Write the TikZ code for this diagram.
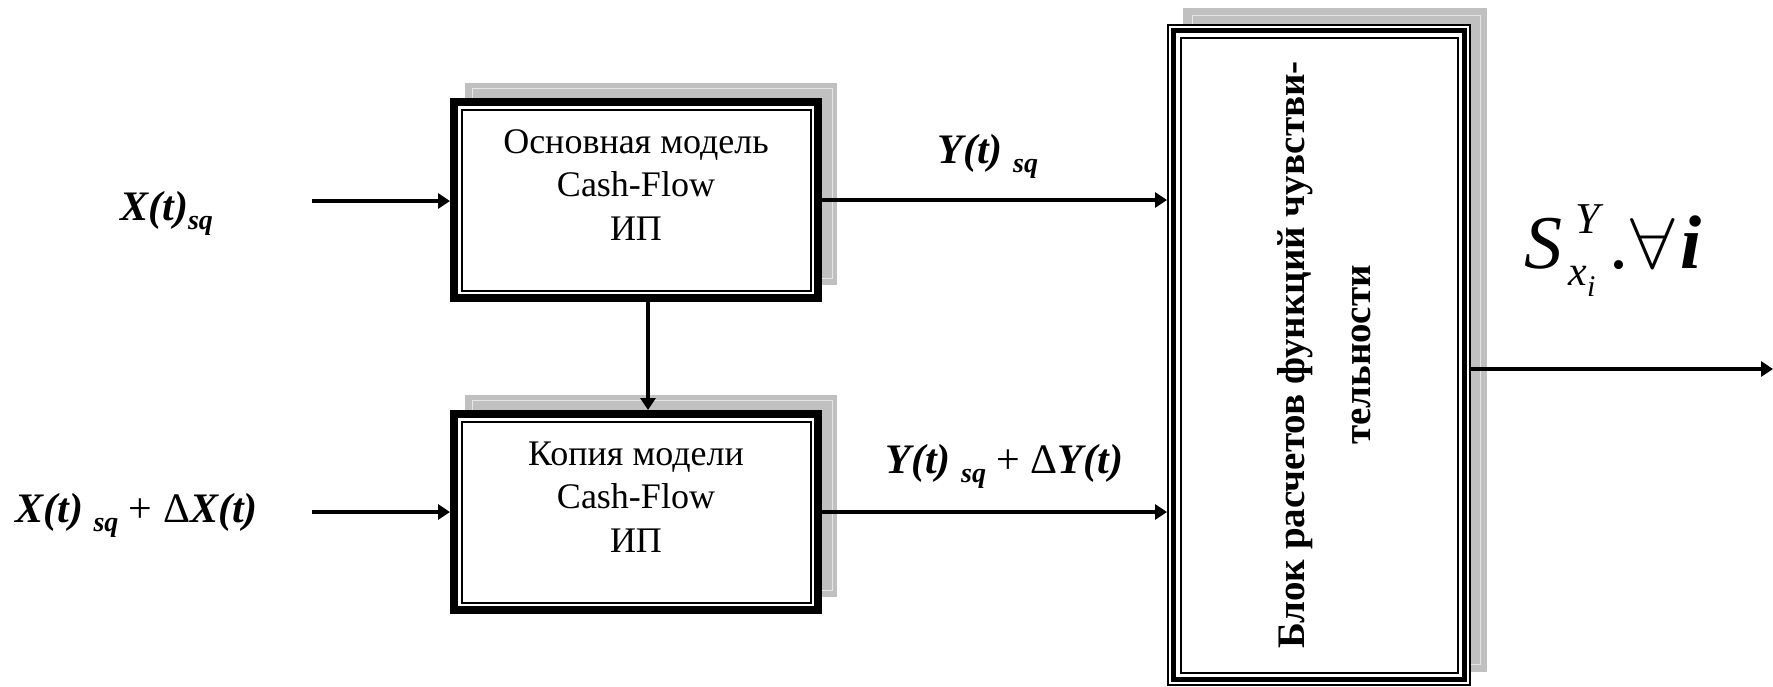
\documentclass[tikz,border=0pt]{standalone}
\usepackage{fontspec}
\usepackage{graphicx}
\setmainfont{Liberation Serif}
\usetikzlibrary{arrows.meta,positioning,calc,backgrounds}
\definecolor{ink}{HTML}{000000}
\definecolor{shadowgray}{HTML}{C0C0C0}
\definecolor{shadowline}{HTML}{E6E6E6}
\newcommand{\sqsub}{\raisebox{-4.5pt}{\fontsize{14}{14}\selectfont sq}}
\tikzset{
  modelbox/.style={draw=ink,fill=white,line width=4pt,
                   minimum width=182pt,minimum height=98pt,
                   inner sep=0pt,align=center,text depth=15pt,
                   font=\fontsize{18}{21.75}\selectfont},
  sensbox/.style={draw=ink,fill=white,line width=1pt,
                  minimum width=151pt,minimum height=330pt,inner sep=0pt},
  sigtext/.style={anchor=base west,inner sep=0pt,
                  font=\fontsize{21}{24}\selectfont\bfseries\itshape},
  rim/.style={draw=ink,line width=#1},
  flowarr/.style={-{Triangle[length=6pt,width=7.5pt]},line width=2.4pt}
}

\begin{document}
\begin{tikzpicture}[x=0.5pt,y=-0.5pt]
  \useasboundingbox (0,0) rectangle (1773,686);
  % blocks
  \node[modelbox] (mainm) at (636,200) {Основная модель\\Cash-Flow\\ИП};
  \node[modelbox] (copym) at (636,512) {Копия модели\\Cash-Flow\\ИП};
  \node[sensbox] (sens) at (1319,355) {};
  \node[rotate=90,align=center,inner sep=0pt,
        font=\fontsize{19.5}{33}\selectfont\bfseries] (senstxt) at (1324,355)
        {Блок расчетов функций чувстви-\\тельности};
  \foreach \n in {mainm,copym} {
    \draw[rim=1pt] ($(\n.north west)+(11.5,11.5)$) rectangle ($(\n.south east)+(-11.5,-11.5)$);
  }
  \draw[rim=2.5pt] ($(sens.north west)+(6.5,6.5)$) rectangle ($(sens.south east)+(-6.5,-6.5)$);
  \draw[rim=1pt] ($(sens.north west)+(14,14)$) rectangle ($(sens.south east)+(-13,-13)$);
  % shadows
  \begin{scope}[on background layer]
    \fill[white] (0,0) rectangle (1773,686);
    \foreach \n in {mainm,copym} {
      \fill[shadowgray] ($(\n.north west)+(15,-15)$) rectangle ($(\n.south east)+(15,-17)$);
      \draw[shadowline,line width=0.5pt] ($(\n.north west)+(22,-10)$) rectangle ($(\n.south east)+(10,-24)$);
    }
    \fill[shadowgray] ($(sens.north west)+(16,-16)$) rectangle ($(sens.south east)+(16,-14)$);
    \draw[shadowline,line width=0.5pt] ($(sens.north west)+(25,-8.5)$) rectangle ($(sens.south east)+(9,-21.5)$);
  \end{scope}
  % signals
  \node[sigtext] (xin) at (120,220) {X(t)\sqsub};
  \node[sigtext] (xdin) at (15,522) {X(t) \sqsub\ {\mdseries\upshape + Δ}X(t)};
  \node[sigtext] (yout) at (937,163) {Y(t) \sqsub};
  \node[sigtext] (ydout) at (885,473) {Y(t) \sqsub\ {\mdseries\upshape + Δ}Y(t)};
  \node[anchor=base west,inner sep=0pt] (sres) at (1524,268)
    {\fontsize{38}{42}\selectfont\itshape S\kern3pt\rlap{\kern3.5pt\raisebox{17.5pt}{\fontsize{22}{22}\selectfont Y}}%
     \raisebox{-8.5pt}{\fontsize{21}{21}\selectfont x\raisebox{-5.5pt}{\fontsize{15}{15}\selectfont i}}%
     \kern7pt\upshape.\kern1pt\scalebox{4}[3.6]{\normalsize$\forall$}\kern3pt\textbf{\itshape i}};
  % connectors
  \coordinate (src1) at (312,201);
  \coordinate (src2) at (312,512);
  \coordinate (sink) at (1773,369);
  \draw[flowarr] (src1) -- (src1 -| mainm.west);
  \draw[flowarr] (src2) -- (src2 -| copym.west);
  \draw[flowarr] (mainm.east) -- (mainm.east -| sens.west);
  \draw[flowarr] (copym.east) -- (copym.east -| sens.west);
  \draw[flowarr,line width=2pt] ([xshift=6pt]mainm.south) -- ([xshift=6pt]copym.north);
  \draw[flowarr] (sink -| sens.east) -- (sink);
\end{tikzpicture}
\end{document}
